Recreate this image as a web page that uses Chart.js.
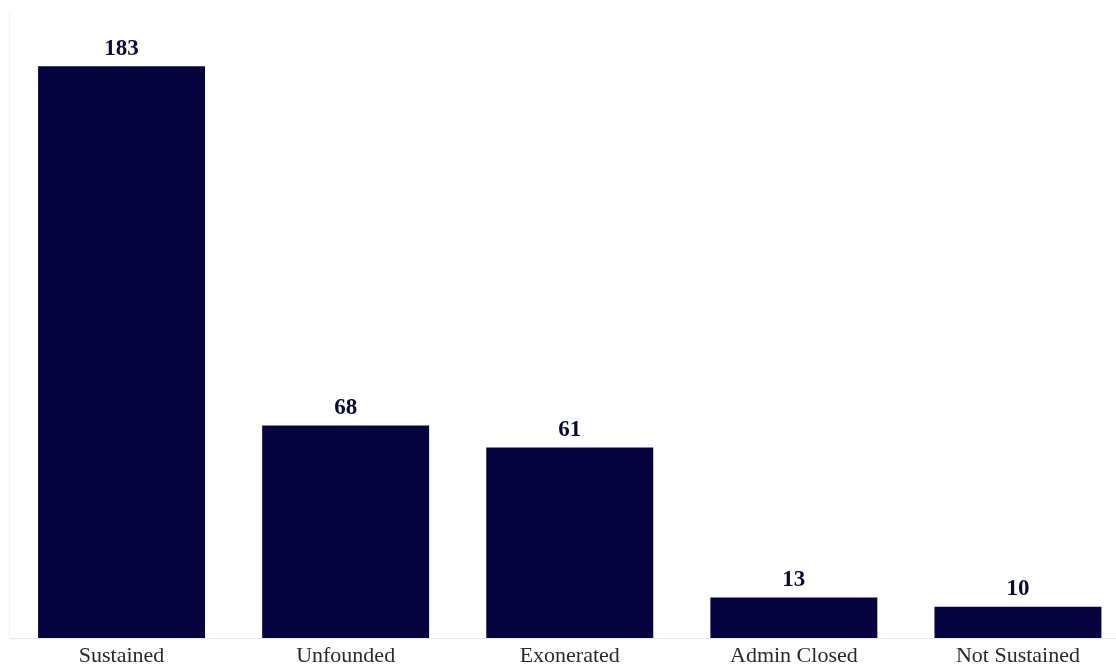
<!DOCTYPE html>
<html>
<head>
<meta charset="utf-8">
<script src="https://cdn.jsdelivr.net/npm/chart.js@4"></script>
<style>
  html, body { margin: 0; padding: 0; background: #fff; overflow: hidden; }
  #wrap { width: 1130px; height: 668px; }
</style>
</head>
<body>
<div id="wrap"><canvas id="outcomeChart"></canvas></div>
<script>
// Complaint outcomes
const categories = ['Sustained', 'Unfounded', 'Exonerated', 'Admin Closed', 'Not Sustained'];
const counts = [183, 68, 61, 13, 10];

const barColor = '#04033e';
const serif = '"Liberation Serif", "Times New Roman", serif';

// value labels above each bar, category names under the axis line
const barLabels = {
    id: 'barLabels',
    afterDatasetsDraw(chart) {
        const ctx = chart.ctx;
        const meta = chart.getDatasetMeta(0);
        const xScale = chart.scales.x;
        ctx.save();
        ctx.textAlign = 'center';

        ctx.font = 'bold 23px ' + serif;
        ctx.fillStyle = '#0a0a3a';
        ctx.textBaseline = 'bottom';
        meta.data.forEach((bar, i) => {
            ctx.fillText(counts[i], bar.x, bar.y - 6);
        });

        ctx.font = '22px ' + serif;
        ctx.fillStyle = '#2a2a2a';
        ctx.textBaseline = 'middle';
        categories.forEach((name, i) => {
            ctx.fillText(name, xScale.getPixelForValue(i), chart.chartArea.bottom + 18);
        });
        ctx.restore();
    }
};

new Chart(document.getElementById('outcomeChart'), {
    type: 'bar',
    data: {
        labels: categories,
        datasets: [{
            data: counts,
            backgroundColor: barColor,
            barPercentage: 0.745,
            categoryPercentage: 1
        }]
    },
    options: {
        responsive: true,
        maintainAspectRatio: false,
        animation: false,
        layout: { padding: { left: 9.5, right: 0, top: 13, bottom: 30 } },
        plugins: {
            legend: { display: false },
            tooltip: { enabled: false }
        },
        scales: {
            x: {
                grid: { display: false, drawTicks: false },
                border: { display: true, color: '#e9e9e9', width: 1 },
                ticks: { display: false }
            },
            y: {
                min: 0,
                max: 200,
                grid: { display: false, drawTicks: false },
                border: { display: true, color: '#f3f3f3', width: 1 },
                ticks: { display: false }
            }
        }
    },
    plugins: [barLabels]
});
</script>
</body>
</html>
